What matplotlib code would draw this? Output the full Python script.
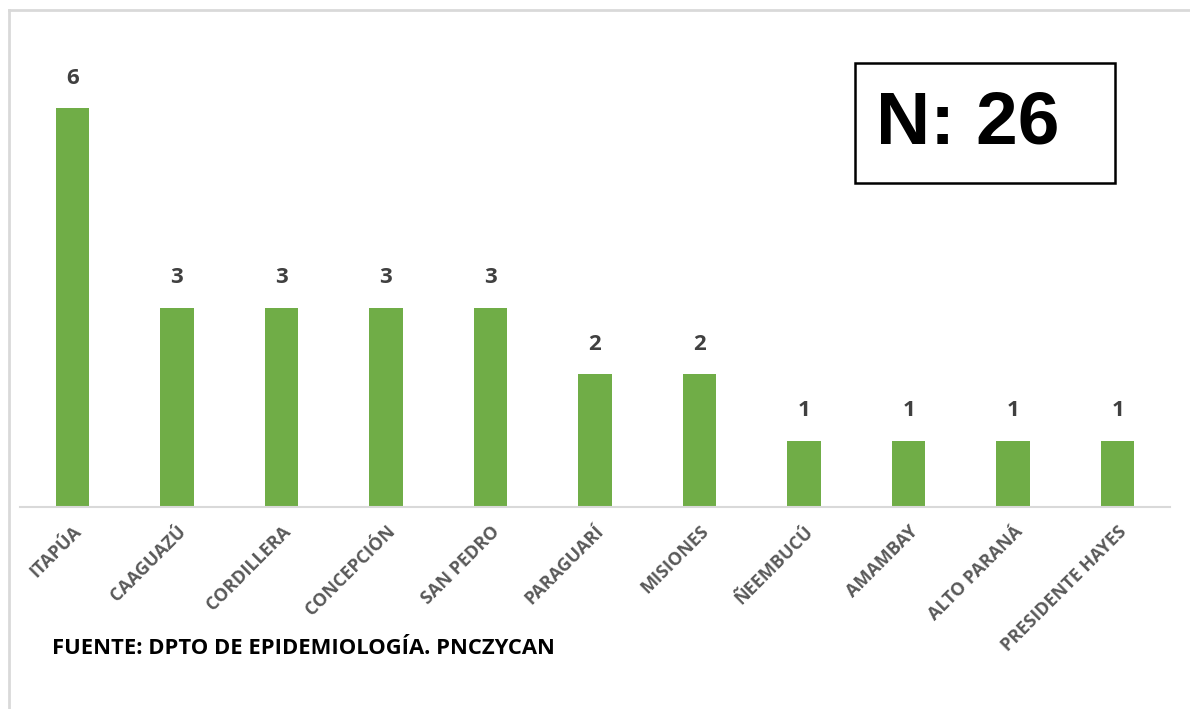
import matplotlib.pyplot as plt
from matplotlib.patches import Rectangle
from matplotlib.lines import Line2D

departamentos = ['ITAPÚA', 'CAAGUAZÚ', 'CORDILLERA', 'CONCEPCIÓN', 'SAN PEDRO',
                 'PARAGUARÍ', 'MISIONES', 'ÑEEMBUCÚ', 'AMAMBAY', 'ALTO PARANÁ',
                 'PRESIDENTE HAYES']
casos = [6, 3, 3, 3, 3, 2, 2, 1, 1, 1, 1]
total = 'N: 26'
fuente = 'FUENTE: DPTO DE EPIDEMIOLOGÍA. PNCZYCAN'

font = 'Open Sans'

fig = plt.figure(figsize=(11.9, 7.09), dpi=100)
ax = fig.add_axes([20 / 1190, (709 - 507) / 709, 1150 / 1190, 465 / 709])

x = range(len(departamentos))
bars = ax.bar(x, casos, width=0.32, color='#70AD47', zorder=2)
for b, v in zip(bars, casos):
    ax.text(b.get_x() + b.get_width() / 2, v + 0.45, str(v), ha='center', va='center',
            fontsize=16, fontweight='bold', color='#404040', family=font)

ax.set_xlim(-0.5, 10.5)
ax.set_ylim(0, 7)
ax.set_xticks(list(x))
ax.set_xticklabels(departamentos, rotation=45, ha='right', rotation_mode='anchor',
                   fontsize=13, fontweight='bold', color='#595959', family=font)
ax.tick_params(axis='x', length=0, pad=11)
ax.set_yticks([])
for s in ['top', 'right', 'left']:
    ax.spines[s].set_visible(False)
ax.spines['bottom'].set_color('#D9D9D9')
ax.spines['bottom'].set_linewidth(1.5)

# N box
fig.patches.append(Rectangle((855 / 1190, 1 - 183 / 709), 260 / 1190, 120 / 709,
                             transform=fig.transFigure, fill=False, edgecolor='black',
                             linewidth=1.8))
fig.text(876 / 1190, 1 - 124 / 709, total, ha='left', va='center', fontsize=54,
         fontweight='bold', family='Liberation Sans')

fig.text(52 / 1190, 1 - 648 / 709, fuente, ha='left', va='center', fontsize=15.8,
         fontweight='bold', color='black', family=font)

# outer frame (top and left only)
fig.lines.append(Line2D([9 / 1190, 1], [1 - 10 / 709, 1 - 10 / 709], transform=fig.transFigure,
                        color='#D9D9D9', linewidth=2))
fig.lines.append(Line2D([9 / 1190, 9 / 1190], [0, 1 - 10 / 709], transform=fig.transFigure,
                        color='#D9D9D9', linewidth=2))

plt.savefig('out.png', dpi=100)
